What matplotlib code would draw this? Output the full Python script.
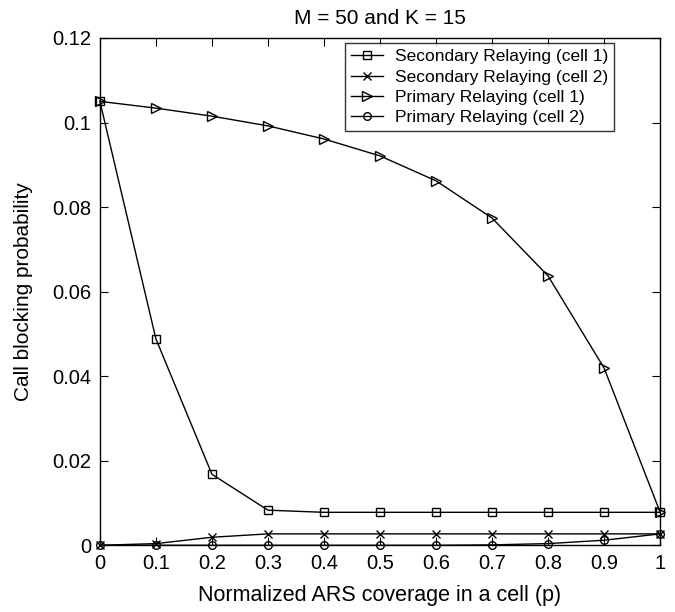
import numpy as np
import matplotlib
matplotlib.use('Agg')
import matplotlib.pyplot as plt

# dados
p = [0, 0.1, 0.2, 0.3, 0.4, 0.5, 0.6, 0.7, 0.8, 0.9, 1.0]
sec_cell1 = [0.105, 0.0488, 0.0168, 0.0083, 0.0078, 0.0078, 0.0078, 0.0078, 0.0078, 0.0078, 0.0078]
sec_cell2 = [0.0, 0.0004, 0.0019, 0.0027, 0.0027, 0.0027, 0.0027, 0.0027, 0.0027, 0.0027, 0.0027]
pri_cell1 = [0.105, 0.1034, 0.1015, 0.0992, 0.0961, 0.0921, 0.0862, 0.0774, 0.0637, 0.0419, 0.0078]
pri_cell2 = [0.0, 0.0, 0.0, 0.0, 0.0, 0.0, 0.0, 0.0001, 0.0004, 0.0012, 0.0027]

labels = ['Secondary Relaying (cell 1)', 'Secondary Relaying (cell 2)',
          'Primary Relaying (cell 1)', 'Primary Relaying (cell 2)']
xticks = [0, 0.1, 0.2, 0.3, 0.4, 0.5, 0.6, 0.7, 0.8, 0.9, 1]
yticks = [0, 0.02, 0.04, 0.06, 0.08, 0.1, 0.12]

plt.rcParams['font.family'] = ['Liberation Sans', 'DejaVu Sans']

fig = plt.figure(figsize=(6.75, 6.12), dpi=100)
ax = fig.add_axes([0.148, 0.109, 0.830, 0.829])

ms = 5.5
kw = dict(color='black', mfc='none', ms=ms, lw=1.0, mew=1.0, clip_on=False)
ax.plot(p, sec_cell1, '-s', label=labels[0], **kw)
ax.plot(p, sec_cell2, '-x', label=labels[1], **kw)
ax.plot(p, pri_cell1, '->', label=labels[2], **dict(kw, ms=ms + 1.5))
ax.plot(p, pri_cell2, '-o', label=labels[3], **kw)

ax.set_xlim(0, 1)
ax.set_ylim(0, 0.12)
ax.set_xticks(xticks)
ax.set_xticklabels([f'{v:g}' for v in xticks])
ax.set_yticks(yticks)
ax.set_yticklabels([f'{v:g}' for v in yticks])
ax.tick_params(direction='in', length=6, labelsize=14.5, top=True, right=True, pad=6)
for s in ax.spines.values():
    s.set_linewidth(1.0)

ax.set_title('M = 50 and K = 15', fontsize=15, pad=10)
ax.set_xlabel('Normalized ARS coverage in a cell (p)', fontsize=15.5, labelpad=9)
ax.set_ylabel('Call blocking probability', fontsize=15, labelpad=14)

leg = ax.legend(loc='upper right', bbox_to_anchor=(0.918, 0.99), fontsize=12.5, frameon=True,
                fancybox=False, edgecolor='black', borderpad=0.35, labelspacing=0.3,
                handlelength=1.8, handletextpad=0.7, borderaxespad=0.0)
leg.get_frame().set_linewidth(1.0)

fig.savefig('out.png', dpi=100)
